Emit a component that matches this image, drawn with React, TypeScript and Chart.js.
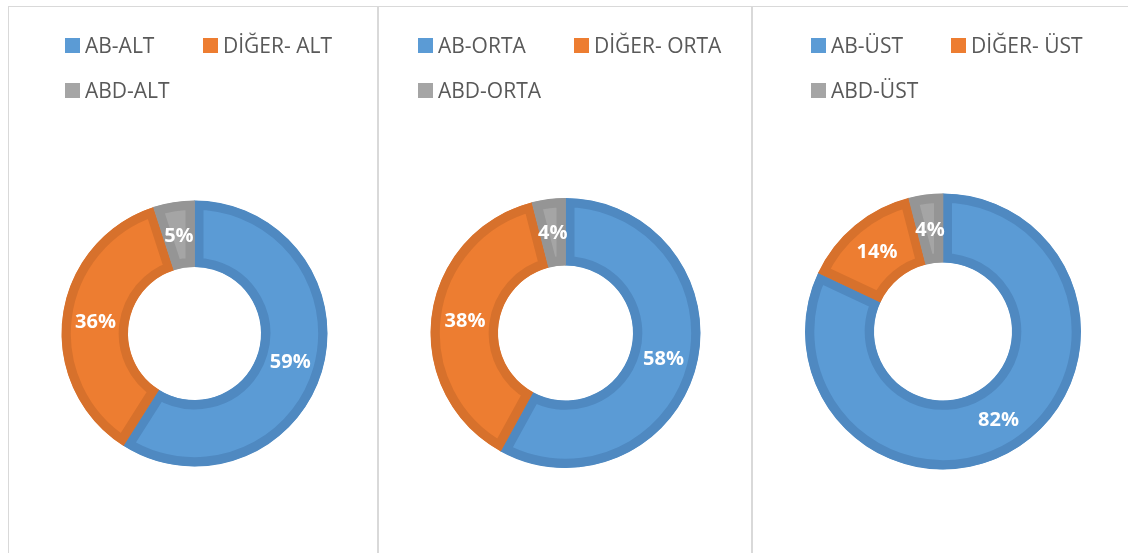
import React, { useEffect, useRef } from 'react';
import { Chart, registerables } from 'chart.js';

Chart.register(...registerables);

// ---- data ----
const categoriesAlt = ['AB-ALT', 'DİĞER- ALT', 'ABD-ALT'];
const valuesAlt = [59, 36, 5];
const categoriesOrta = ['AB-ORTA', 'DİĞER- ORTA', 'ABD-ORTA'];
const valuesOrta = [58, 38, 4];
const categoriesUst = ['AB-ÜST', 'DİĞER- ÜST', 'ABD-ÜST'];
const valuesUst = [82, 14, 4];

const fillColors = ['#5B9BD5', '#ED7D31', '#A5A5A5'];
const borderColors = ['#4F89C1', '#D7712C', '#959595'];

// ---- layout (page coordinates) ----
const PANEL_TOP = 6;
const CANVAS_TOP = 7;
const CANVAS_H = 546;

type PanelCfg = {
  labels: string[];
  values: number[];
  panelLeft: number;
  panelWidth: number;
  canvasLeft: number;
  canvasWidth: number;
  cx: number;
  cy: number;
  r: number;
};

const panels: PanelCfg[] = [
  { labels: categoriesAlt, values: valuesAlt, panelLeft: 8, panelWidth: 370, canvasLeft: 9, canvasWidth: 368, cx: 194.5, cy: 333.5, r: 133 },
  { labels: categoriesOrta, values: valuesOrta, panelLeft: 378, panelWidth: 374, canvasLeft: 379, canvasWidth: 372, cx: 565.5, cy: 333, r: 135 },
  { labels: categoriesUst, values: valuesUst, panelLeft: 752, panelWidth: 400, canvasLeft: 753, canvasWidth: 375, cx: 943, cy: 331.5, r: 138 },
];

const LEGEND_FONT = '21px "Open Sans"';
const LABEL_FONT = 'bold 20px "Open Sans"';

const xlLegendPlugin = {
  id: 'xlLegend',
  afterDraw(chart: any, _args: any, opts: any) {
    const ctx = chart.ctx as CanvasRenderingContext2D;
    const labels: string[] = chart.data.labels;
    const ds = chart.data.datasets[0];
    ctx.save();
    ctx.font = LEGEND_FONT;
    const box = 15;
    const gap = 5;
    const widths = labels.map((l) => box + gap + ctx.measureText(l).width);
    const colW = Math.max(...widths) + 8;
    const rowW = colW + widths[1];
    const x0 = opts.centerX - rowW / 2;
    labels.forEach((l, i) => {
      const col = i % 2;
      const row = Math.floor(i / 2);
      const x = x0 + col * colW;
      const boxTop = opts.firstBoxTop + row * 45;
      ctx.fillStyle = ds.backgroundColor[i];
      ctx.fillRect(Math.round(x), boxTop, box, box);
      ctx.fillStyle = '#595959';
      ctx.textAlign = 'left';
      ctx.textBaseline = 'alphabetic';
      ctx.fillText(l, Math.round(x) + box + gap, boxTop + 14.5);
    });
    ctx.restore();
  },
};

const pctLabelPlugin = {
  id: 'pctLabels',
  afterDatasetsDraw(chart: any) {
    const ctx = chart.ctx as CanvasRenderingContext2D;
    const meta = chart.getDatasetMeta(0);
    const data = chart.data.datasets[0].data;
    ctx.save();
    ctx.font = LABEL_FONT;
    ctx.fillStyle = '#FFFFFF';
    ctx.textAlign = 'center';
    ctx.textBaseline = 'middle';
    meta.data.forEach((arc: any, i: number) => {
      const p = arc.getCenterPoint();
      ctx.fillText(data[i] + '%', p.x, p.y + 1);
    });
    ctx.restore();
  },
};

function DonutPanel({ cfg }: { cfg: PanelCfg }) {
  const ref = useRef<HTMLCanvasElement | null>(null);
  useEffect(() => {
    if (!ref.current) return;
    const cx = cfg.cx - cfg.canvasLeft;
    const cy = cfg.cy - CANVAS_TOP;
    const r = cfg.r;
    const chart = new Chart(ref.current, {
      type: 'doughnut',
      data: {
        labels: cfg.labels,
        datasets: [
          {
            data: cfg.values,
            backgroundColor: fillColors,
            borderColor: borderColors,
            borderWidth: 9,
            borderAlign: 'inner',
            hoverOffset: 0,
          } as any,
        ],
      },
      options: {
        animation: false,
        responsive: false,
        maintainAspectRatio: false,
        events: [],
        cutout: '50%',
        radius: r,
        layout: {
          padding: {
            left: cx - r,
            right: cfg.canvasWidth - cx - r,
            top: cy - r,
            bottom: CANVAS_H - cy - r,
          },
        },
        plugins: {
          legend: { display: false },
          tooltip: { enabled: false },
          xlLegend: {
            centerX: cfg.cx + 4 - cfg.canvasLeft,
            firstBoxTop: 38 - CANVAS_TOP,
          },
        } as any,
      },
      plugins: [xlLegendPlugin, pctLabelPlugin],
    });
    const fontsApi: any = (document as any).fonts;
    if (fontsApi && fontsApi.load) {
      Promise.all([fontsApi.load(LEGEND_FONT), fontsApi.load(LABEL_FONT)])
        .then(() => chart.update())
        .catch(() => {});
    }
    return () => chart.destroy();
  }, [cfg]);

  return (
    <>
      <div
        style={{
          position: 'absolute',
          left: cfg.panelLeft,
          top: PANEL_TOP,
          width: cfg.panelWidth,
          height: 620,
          border: '1px solid #D9D9D9',
          boxSizing: 'border-box',
          background: '#FFFFFF',
        }}
      />
      <canvas
        ref={ref}
        width={cfg.canvasWidth}
        height={CANVAS_H}
        style={{
          position: 'absolute',
          left: cfg.canvasLeft,
          top: CANVAS_TOP,
          width: cfg.canvasWidth,
          height: CANVAS_H,
        }}
      />
    </>
  );
}

export default function App() {
  return (
    <div
      style={{
        position: 'fixed',
        left: 0,
        top: 0,
        width: 1128,
        height: 553,
        overflow: 'hidden',
        background: '#FFFFFF',
      }}
    >
      {panels.map((p, i) => (
        <DonutPanel key={i} cfg={p} />
      ))}
    </div>
  );
}
